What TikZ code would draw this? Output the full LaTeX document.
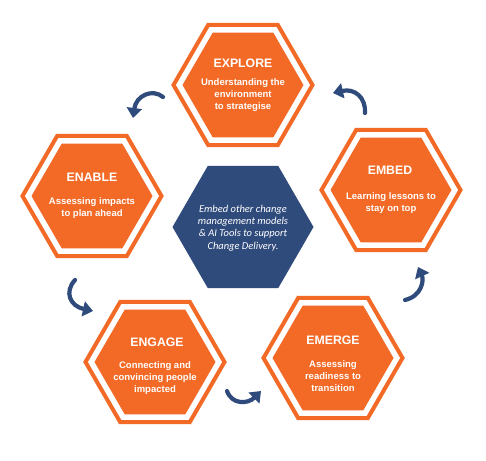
\documentclass[tikz,border=0pt]{standalone}
\usepackage{fontspec}
\setmainfont{Liberation Sans}
\newfontfamily\centerfont{Carlito}
\usetikzlibrary{shapes.geometric,arrows.meta}
\definecolor{hexorange}{HTML}{F26A26}
\definecolor{hexnavy}{HTML}{2F4B7C}
\begin{document}
\begin{tikzpicture}[x=1pt,y=-1pt,
 hexring/.style={regular polygon, regular polygon sides=6, draw=hexorange, line width=4pt, minimum size=139pt, inner sep=0pt},
 hexcore/.style={regular polygon, regular polygon sides=6, fill=hexorange, minimum size=121pt, inner sep=0pt},
 hexmid/.style={regular polygon, regular polygon sides=6, fill=hexnavy, minimum size=141pt, inner sep=0pt},
 hextitle/.style={text=white, font=\bfseries\fontsize{12.3}{14}\selectfont, inner sep=0pt},
 hexbody/.style={text=white, font=\bfseries\fontsize{9.5}{12.3}\selectfont, align=center, inner sep=0pt},
 midtext/.style={text=white, font=\centerfont\itshape\fontsize{10.5}{12.4}\selectfont, align=center, inner sep=0pt},
 flow/.style={draw=hexnavy, line width=4.2pt, line cap=round, -{Triangle[width=15pt,length=10pt]}}
]
\useasboundingbox[fill=white] (0,0) rectangle (486,460);

% EXPLORE
\node[hexring] (exploreRing) at (243,85) {};
\node[hexcore] (exploreCore) at (243,85) {};
\node[hextitle] (exploreTitle) at (243,63) {EXPLORE};
\node[hexbody] (exploreBody) at (243,95) {Understanding the\\environment\\to strategise};

% ENABLE
\node[hexring] (enableRing) at (92,196) {};
\node[hexcore] (enableCore) at (92,196) {};
\node[hextitle] (enableTitle) at (92,177) {ENABLE};
\node[hexbody] (enableBody) at (92,208) {Assessing impacts\\to plan ahead};

% EMBED
\node[hexring] (embedRing) at (391,190) {};
\node[hexcore] (embedCore) at (391,190) {};
\node[hextitle] (embedTitle) at (390,170) {EMBED};
\node[hexbody] (embedBody) at (391,203) {Learning lessons to\\stay on top};

% ENGAGE
\node[hexring] (engageRing) at (155,362) {};
\node[hexcore] (engageCore) at (155,362) {};
\node[hextitle] (engageTitle) at (157,342) {ENGAGE};
\node[hexbody] (engageBody) at (155,378) {Connecting and\\convincing people\\impacted};

% EMERGE
\node[hexring] (emergeRing) at (333,358) {};
\node[hexcore] (emergeCore) at (333,358) {};
\node[hextitle] (emergeTitle) at (333,340) {EMERGE};
\node[hexbody] (emergeBody) at (333,376) {Assessing\\readiness to\\transition};

% centre
\node[hexmid] (mid) at (243,227) {};
\node[midtext] (midText) at (243,228) {Embed other change\\management models\\\& AI Tools to support\\Change Delivery.};

% arrows
\coordinate (a1s) at (163,97);  \coordinate (a1e) at (133,118);
\coordinate (a2s) at (365,113); \coordinate (a2e) at (333,93);
\coordinate (a3s) at (75,280);  \coordinate (a3e) at (93,311);
\coordinate (a4s) at (227,391); \coordinate (a4e) at (261,391);
\coordinate (a5s) at (405,300); \coordinate (a5e) at (418,267);
\draw[flow] (a1s) .. controls (152,88) and (136,96) .. (a1e);
\draw[flow] (a2s) .. controls (366,98) and (355,88) .. (a2e);
\draw[flow] (a3s) .. controls (64,292) and (70,306) .. (a3e);
\draw[flow] (a4s) .. controls (232,405) and (248,404) .. (a4e);
\draw[flow] (a5s) .. controls (422,296) and (424,280) .. (a5e);
\end{tikzpicture}
\end{document}
